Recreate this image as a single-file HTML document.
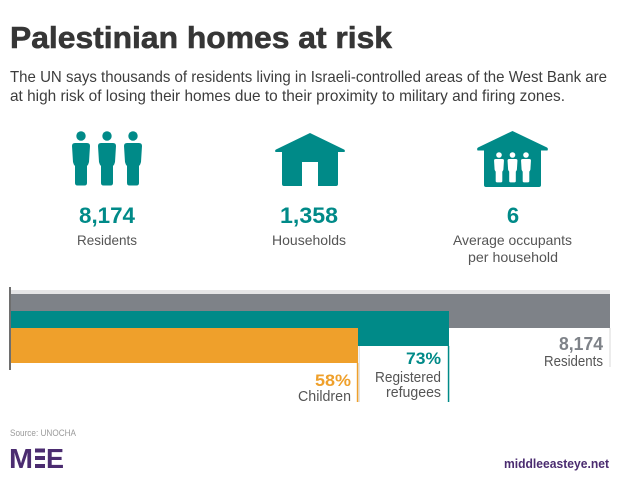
<!DOCTYPE html>
<html><head><meta charset="utf-8"><style>
html,body{margin:0;padding:0;background:#fff;}
svg{display:block;}
text{font-family:"Liberation Sans",sans-serif;}
</style></head><body>
<svg width="620" height="488" viewBox="0 0 620 488" xmlns="http://www.w3.org/2000/svg">
<defs>
<path id="person" d="M-9,3 Q-9,0 -6,0 L6,0 Q9,0 9,3 L8,19 Q7.5,21.5 6,23 L6,40 Q6,42.5 3.5,42.5 L-3.5,42.5 Q-6,42.5 -6,40 L-6,23 Q-7.5,21.5 -8,19 Z"/>
<clipPath id="bclip"><rect x="0" y="280" width="620" height="122"/></clipPath>
</defs>
<rect width="620" height="488" fill="#fff"/>

<!-- Title -->
<text x="10" y="48" font-size="31" font-weight="bold" fill="#363636" stroke="#363636" stroke-width="0.6" textLength="382" lengthAdjust="spacingAndGlyphs">Palestinian homes at risk</text>
<text x="10" y="82" font-size="16" fill="#3d3d3d" textLength="597" lengthAdjust="spacingAndGlyphs">The UN says thousands of residents living in Israeli-controlled areas of the West Bank are</text>
<text x="10" y="101" font-size="16" fill="#3d3d3d" textLength="555" lengthAdjust="spacingAndGlyphs">at high risk of losing their homes due to their proximity to military and firing zones.</text>

<!-- People icon -->
<g fill="#008a88">
<circle cx="81" cy="136" r="4.7"/><use href="#person" x="81" y="143"/>
<circle cx="107" cy="136" r="4.7"/><use href="#person" x="107" y="143"/>
<circle cx="133" cy="136" r="4.7"/><use href="#person" x="133" y="143"/>
</g>

<!-- House icon -->
<path d="M310,133 L344,149.5 Q345.5,150.5 344.5,152 L338,152 L338,184 Q338,186 336,186 L284,186 Q282,186 282,184 L282,152 L275.5,152 Q274.5,150.5 276,149.5 Z" fill="#008a88"/>
<rect x="302" y="162" width="16" height="24.5" fill="#fff"/>

<!-- House with people -->
<path d="M512.5,131 L547,147.5 Q548.5,148.5 547.5,150.5 L541,150.5 L541,185 Q541,187 539,187 L486,187 Q484,187 484,185 L484,150.5 L477.5,150.5 Q476.5,148.5 478,147.5 Z" fill="#008a88"/>
<g fill="#fff">
<circle cx="499" cy="155" r="2.8"/><use href="#person" transform="translate(499,159) scale(0.55)"/>
<circle cx="512.5" cy="155" r="2.8"/><use href="#person" transform="translate(512.5,159) scale(0.55)"/>
<circle cx="526" cy="155" r="2.8"/><use href="#person" transform="translate(526,159) scale(0.55)"/>
</g>

<!-- Stat numbers -->
<g font-weight="bold" fill="#008a88" font-size="22" text-anchor="middle">
<text x="107" y="223" textLength="56" lengthAdjust="spacingAndGlyphs">8,174</text>
<text x="309" y="223" textLength="58" lengthAdjust="spacingAndGlyphs">1,358</text>
<text x="513" y="223">6</text>
</g>
<g fill="#555" font-size="14" text-anchor="middle">
<text x="107" y="245" textLength="60" lengthAdjust="spacingAndGlyphs">Residents</text>
<text x="309" y="245" textLength="74" lengthAdjust="spacingAndGlyphs">Households</text>
<text x="512.5" y="245" textLength="119" lengthAdjust="spacingAndGlyphs">Average occupants</text>
<text x="513" y="262" textLength="90" lengthAdjust="spacingAndGlyphs">per household</text>
</g>

<!-- Bars -->
<rect x="11" y="290" width="599" height="4" fill="#e5e5e6"/>
<rect x="11" y="294" width="599" height="34" fill="#7e8288"/>
<rect x="11" y="311" width="438" height="35" fill="#008a88"/>
<rect x="11" y="328" width="347" height="35" fill="#efa02b"/>
<line x1="10" y1="287" x2="10" y2="370" stroke="#4a4a4a" stroke-width="1.6"/>

<rect x="609.5" y="328" width="1" height="39" fill="#d9d9d9"/>
<rect x="358.6" y="346" width="1.2" height="56" fill="#dcdcdc"/>
<rect x="447.8" y="346" width="1.5" height="56" fill="#008a88"/>
<rect x="356.8" y="363" width="1.5" height="39" fill="#efa02b"/>

<g clip-path="url(#bclip)" text-anchor="end">
<text x="603" y="350" font-size="18" font-weight="bold" fill="#7e8288" textLength="44" lengthAdjust="spacingAndGlyphs">8,174</text>
<text x="603" y="366" font-size="15" fill="#555" textLength="59" lengthAdjust="spacingAndGlyphs">Residents</text>
<text x="441" y="364" font-size="17" font-weight="bold" fill="#008a88" textLength="35" lengthAdjust="spacingAndGlyphs">73%</text>
<text x="441" y="382" font-size="15" fill="#555" textLength="66" lengthAdjust="spacingAndGlyphs">Registered</text>
<text x="441" y="397" font-size="15" fill="#555" textLength="55" lengthAdjust="spacingAndGlyphs">refugees</text>
<text x="351" y="386" font-size="17" font-weight="bold" fill="#efa02b" textLength="36" lengthAdjust="spacingAndGlyphs">58%</text>
<text x="351" y="401" font-size="15" fill="#555" textLength="53" lengthAdjust="spacingAndGlyphs">Children</text>
</g>

<!-- Footer -->
<text x="10" y="436" font-size="9.5" fill="#9a9a9a" textLength="66" lengthAdjust="spacingAndGlyphs">Source: UNOCHA</text>
<g fill="#4b2c70">
<text x="9" y="468" font-size="28" font-weight="bold" textLength="24" lengthAdjust="spacingAndGlyphs">M</text>
<rect x="35" y="448.5" width="10" height="4"/>
<rect x="35" y="456" width="10" height="4"/>
<rect x="35" y="464" width="10" height="4"/>
<text x="46" y="468" font-size="28" font-weight="bold" textLength="18" lengthAdjust="spacingAndGlyphs">E</text>
<text x="609" y="468" font-size="13" font-weight="bold" text-anchor="end" textLength="105" lengthAdjust="spacingAndGlyphs">middleeasteye.net</text>
</g>
</svg>
</body></html>
